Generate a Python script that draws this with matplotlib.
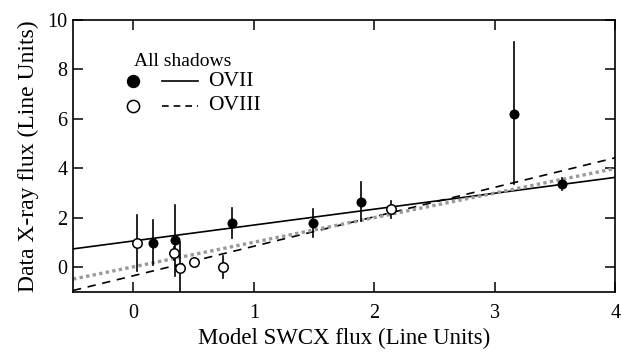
import numpy as np
import matplotlib.pyplot as plt

plt.rcParams['font.family'] = ['Liberation Serif', 'DejaVu Serif']

# OVII shadows (filled)
ovii_x = [0.16, 0.35, 0.82, 1.49, 1.89, 3.16, 3.56]
ovii_y = [0.98, 1.09, 1.79, 1.77, 2.62, 6.17, 3.35]
ovii_lo = [0.07, -0.34, 1.19, 1.21, 1.86, 3.35, 3.12]
ovii_hi = [1.90, 2.51, 2.40, 2.34, 3.43, 9.10, 3.60]

# OVIII shadows (open)
oviii_x = [0.03, 0.335, 0.39, 0.50, 0.745, 2.14]
oviii_y = [0.99, 0.56, -0.02, 0.23, 0.01, 2.34]
oviii_lo = [-0.14, 0.30, -1.00, 0.15, -0.42, 1.98]
oviii_hi = [2.11, 0.80, 1.03, 0.33, 0.46, 2.69]

# best-fit lines: (slope, intercept)
fit_ovii = (0.642, 1.06)
fit_oviii = (1.191, -0.345)
fit_all = (0.993, 0.016)

fig = plt.figure(figsize=(6.22, 3.52), dpi=100)
ax = fig.add_axes([0.1174, 0.1705, 0.8721, 0.7741])

xx = np.array([-0.5, 4.0])
ax.plot(xx, fit_ovii[0] * xx + fit_ovii[1], color='black', lw=1.2)
ax.plot(xx, fit_oviii[0] * xx + fit_oviii[1], color='black', lw=1.2, ls=(0, (5, 4)))
ax.plot(xx, fit_all[0] * xx + fit_all[1], color='#999999', lw=2.4, ls=(0, (1, 1)))

for x, lo, hi in zip(ovii_x + oviii_x, ovii_lo + oviii_lo, ovii_hi + oviii_hi):
    ax.plot([x, x], [lo, hi], color='black', lw=1.2)

ax.plot(ovii_x, ovii_y, 'o', ms=6.2, mfc='black', mec='black', zorder=5)
ax.plot(oviii_x, oviii_y, 'o', ms=6.8, mfc='white', mec='black', mew=1.1, zorder=5)

ax.set_xlim(-0.5, 4)
ax.set_ylim(-1, 10)
ax.set_xticks([0, 1, 2, 3, 4])
ax.set_yticks([0, 2, 4, 6, 8, 10])
ax.tick_params(direction='in', length=7.5, width=1.1, labelsize=14.5,
               top=True, right=True)
ax.tick_params(axis='x', pad=9)
ax.tick_params(axis='y', pad=4)
for s in ax.spines.values():
    s.set_linewidth(1.2)

ax.set_xlabel('Model SWCX flux (Line Units)', fontsize=16.5, labelpad=3)
ax.set_ylabel('Data X-ray flux (Line Units)', fontsize=17, labelpad=6)

# legend drawn by hand in data coordinates
ax.text(0.006, 8.3, 'All shadows', fontsize=14, ha='left', va='center')
ax.plot([-0.005], [7.51], 'o', ms=8.6, mfc='black', mec='black')
ax.plot([-0.005], [6.52], 'o', ms=8.8, mfc='white', mec='black', mew=1.1)
ax.plot([0.236, 0.537], [7.51, 7.51], color='black', lw=1.2)
ax.plot([0.236, 0.537], [6.52, 6.52], color='black', lw=1.2, ls=(0, (4, 3)))
ax.text(0.617, 7.51, 'OVII', fontsize=15.5, ha='left', va='center')
ax.text(0.617, 6.52, 'OVIII', fontsize=15.5, ha='left', va='center')

fig.savefig('out.png', dpi=100)
